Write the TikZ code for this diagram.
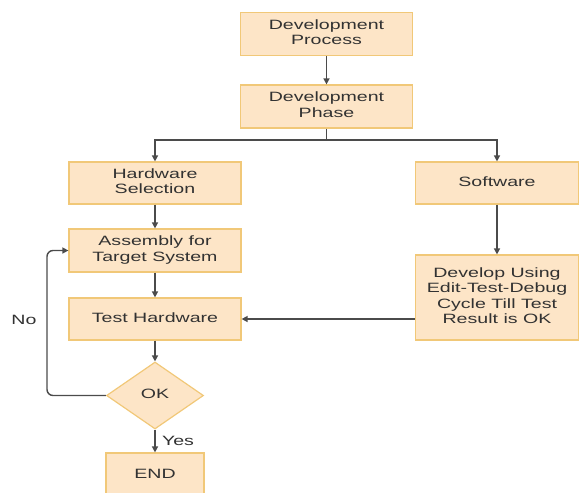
\documentclass[tikz,border=0pt]{standalone}
\usepackage{fontspec}
\setmainfont{Liberation Sans}
\usepackage{graphicx}
\usetikzlibrary{shapes.geometric,arrows.meta}
\definecolor{boxfill}{RGB}{253,229,199}
\definecolor{boxdraw}{RGB}{241,200,120}
\definecolor{txt}{RGB}{50,50,50}
\definecolor{linec}{RGB}{75,75,75}
\newcommand{\T}[1]{\scalebox{1.45}[1]{\begin{tabular}{@{}c@{}}#1\end{tabular}}}
\begin{document}
\begin{tikzpicture}[x=1pt,y=-1pt,
  box/.style={draw=boxdraw,fill=boxfill,line width=1.2pt,inner sep=0pt,text=txt,
    font=\fontsize{13.5}{15.5}\selectfont},
  dia/.style={diamond,draw=boxdraw,fill=boxfill,line width=1.2pt,inner sep=0pt,text=txt,
    aspect=1.45,font=\fontsize{13.5}{15.5}\selectfont},
  conn/.style={draw=linec,line width=1.4pt,-{Triangle[length=6pt,width=6pt]}},
  lbl/.style={text=txt,font=\fontsize{13.5}{15.5}\selectfont}]
\useasboundingbox (0,0) rectangle (579,493);
\clip (0,0) rectangle (579,493);
\node[box,minimum width=172pt,minimum height=43pt] (proc) at (326.5,34) {\T{Development\\Process}};
\node[box,minimum width=172pt,minimum height=43pt] (phase) at (326.5,106.5) {\T{Development\\Phase}};
\node[box,minimum width=172pt,minimum height=42pt] (hw) at (155,183) {\T{Hardware\\Selection}};
\node[box,minimum width=172pt,minimum height=43pt] (asm) at (155,250.5) {\T{Assembly for\\Target System}};
\node[box,minimum width=172pt,minimum height=42pt] (test) at (155,319) {\T{Test Hardware}};
\node[dia,minimum width=97pt,minimum height=67pt] (ok) at (155,395.5) {\T{OK}};
\node[box,minimum width=98pt,minimum height=44pt] (end) at (155,475) {\T{END}};
\node[box,minimum width=163pt,minimum height=42pt] (sw) at (497,183) {\T{Software}};
\node[box,minimum width=163pt,minimum height=85pt] (dev) at (497,297.5) {\T{Develop Using\\Edit-Test-Debug\\Cycle Till Test\\Result is OK}};
\coordinate (split) at (326.5,140);
\draw[conn] (proc) -- (phase);
\draw[draw=linec,line width=1.4pt] (phase) -- (split);
\draw[conn] (split) -| (hw);
\draw[conn] (split) -| (sw);
\draw[conn] (hw) -- (asm);
\draw[conn] (asm) -- (test);
\draw[conn] (test) -- (ok);
\draw[conn] (sw) -- (dev);
\draw[conn] (dev.west |- test) -- (test.east);
\draw[conn,rounded corners=6pt] (ok.west) -- (47,395.5) -- (47,250.5) -- (asm.west);
\draw[conn] (ok.south) -- node[lbl,right=3pt] {\scalebox{1.45}[1]{Yes}} (end.north);
\node[lbl] (no) at (24,320) {\scalebox{1.45}[1]{No}};
\end{tikzpicture}
\end{document}
